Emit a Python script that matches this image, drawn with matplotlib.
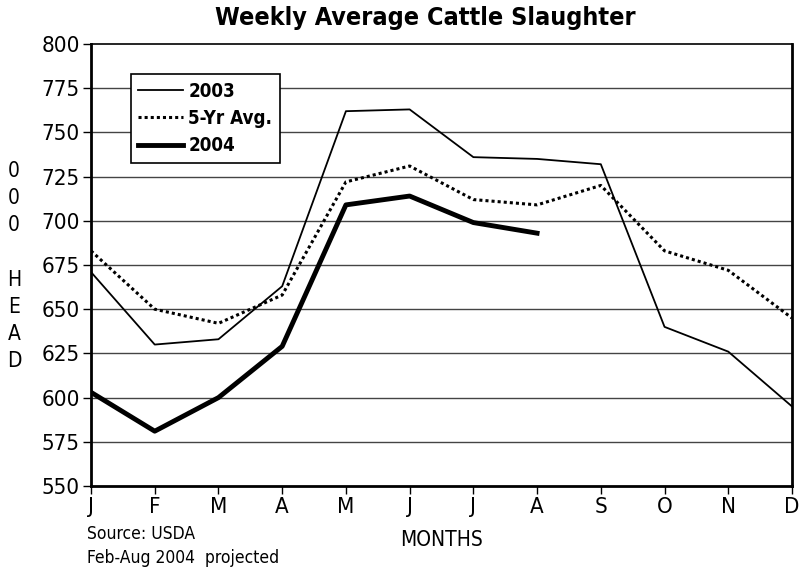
import matplotlib.pyplot as plt

plt.rcParams['font.family'] = ['DejaVu Sans']
plt.rcParams['font.stretch'] = 'condensed'

months = ["J", "F", "M", "A", "M", "J", "J", "A", "S", "O", "N", "D"]
y2003 = [671, 630, 633, 663, 762, 763, 736, 735, 732, 640, 626, 595]
avg5 = [683, 650, 642, 658, 722, 731, 712, 709, 720, 683, 672, 645]
y2004 = [603, 581, 600, 629, 709, 714, 699, 693]
yticks = list(range(550, 801, 25))

fig = plt.figure(figsize=(8, 5.71), dpi=100)
ax = fig.add_axes([91/800, 1 - 486/571, 701/800, 442/571])

x = list(range(len(months)))
ax.plot(x, y2003, color='black', lw=1.3, label='2003')
ax.plot(x, avg5, color='black', lw=2.2, ls=(0, (1, 1)), label='5-Yr Avg.')
ax.plot(x[:len(y2004)], y2004, color='black', lw=3.5, label='2004')

ax.set_xlim(0, 11)
ax.set_ylim(550, 800)
ax.set_yticks(yticks)
ax.set_yticklabels([str(v) for v in yticks], fontsize=16)
ax.set_xticks(x)
ax.set_xticklabels(months, fontsize=16)
for v in yticks[1:-1]:
    ax.axhline(v, color='#444444', lw=1, zorder=0)

for s in ['left', 'bottom', 'right']:
    ax.spines[s].set_linewidth(2)
ax.spines['top'].set_linewidth(1.2)
ax.tick_params(axis='both', direction='out', length=6, width=1, pad=2)

leg = ax.legend(loc='upper left', bbox_to_anchor=(0.057, 0.932), fancybox=False,
                edgecolor='black', framealpha=1, handlelength=2.4,
                prop={'weight': 'bold', 'size': 13.5, 'stretch': 'condensed'},
                borderpad=0.4, labelspacing=0.45, handletextpad=0.25,
                borderaxespad=0)
leg.get_frame().set_linewidth(1.2)

fig.text(425/800, 1 - 18/571, "Weekly Average Cattle Slaughter", ha='center',
         va='center', fontsize=18, fontweight='bold')
fig.text(14/800, 1 - 266/571, "0\n0\n0\n\nH\nE\nA\nD", ha='center', va='center',
         fontsize=15, linespacing=1.45)
fig.text(441/800, 1 - 540/571, "MONTHS", ha='center', va='center', fontsize=15)
fig.text(87/800, 1 - 534/571, "Source: USDA", ha='left', va='center',
         fontsize=12.5)
fig.text(87/800, 1 - 558/571, "Feb-Aug 2004  projected", ha='left', va='center',
         fontsize=12.5)

fig.savefig('out.png', dpi=100)
